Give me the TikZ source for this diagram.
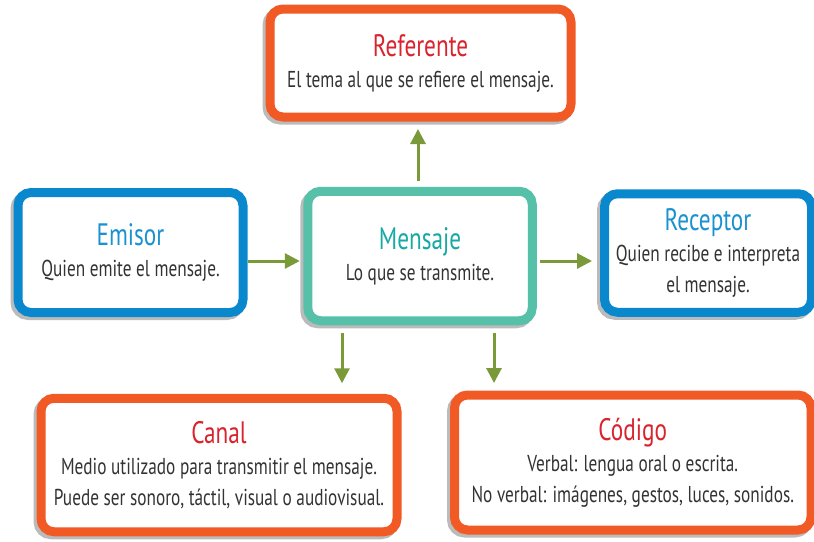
\documentclass[tikz,border=0pt]{standalone}
\usepackage{fontspec}
\setmainfont{PT Sans}[FakeStretch=0.75]
\usepackage{xcolor}
\usetikzlibrary{arrows.meta,positioning,calc}

\definecolor{naranja}{HTML}{F15A24}
\definecolor{azul}{HTML}{0A88CE}
\definecolor{verdeagua}{HTML}{56C1A8}
\definecolor{rojotit}{HTML}{D9232D}
\definecolor{azultit}{HTML}{1A92D0}
\definecolor{verdetit}{HTML}{17A9A5}
\definecolor{verdeflecha}{HTML}{7A9A3A}
\definecolor{textogris}{HTML}{333333}
\definecolor{sombra}{HTML}{BBBBBB}

\newcommand{\titulo}[2]{{\color{#1}\fontsize{31}{32}\selectfont #2}}

\tikzset{
  caja/.style={draw=#1, line width=9pt, rounded corners=13pt, fill=white,
    align=center, text=textogris, inner sep=0pt,
    font=\fontsize{23}{31}\selectfont,
    preaction={draw=sombra, transform canvas={shift={(-3pt,-3pt)}}}},
  flecha/.style={draw=verdeflecha, line width=3pt,
    -{Triangle[length=15pt,width=15pt]}},
}

\begin{document}
\begin{tikzpicture}[x=1pt,y=-1pt]
\useasboundingbox (0,0) rectangle (814,541);

% cajas
\node[caja=naranja, minimum width=301pt, minimum height=108pt] (referente) at (420.5,63)
  {\titulo{rojotit}{Referente}\\El tema al que se refiere el mensaje.};
\node[caja=azul, minimum width=225pt, minimum height=120pt] (emisor) at (130.5,252.5)
  {\titulo{azultit}{Emisor}\\Quien emite el mensaje.};
\node[caja=verdeagua, minimum width=224.5pt, minimum height=129.5pt] (mensaje) at (420,256)
  {\titulo{verdetit}{Mensaje}\\Lo que se transmite.};
\node[caja=azul, minimum width=207pt, minimum height=118.5pt] (receptor) at (708,253)
  {\titulo{azultit}{Receptor}\\Quien recibe e interpreta\\el mensaje.};
\node[caja=naranja, minimum width=356pt, minimum height=133.5pt] (canal) at (219,465)
  {\titulo{rojotit}{Canal}\\Medio utilizado para transmitir el mensaje.\\Puede ser sonoro, táctil, visual o audiovisual.};
\node[caja=naranja, minimum width=356.5pt, minimum height=135pt] (codigo) at (632.75,462.5)
  {\titulo{rojotit}{Código}\\Verbal: lengua oral o escrita.\\No verbal: imágenes, gestos, luces, sonidos.};

% flechas
\draw[flecha, shorten <=0.5pt, shorten >=3.5pt] (emisor.east |- 0,261) -- (mensaje.west |- 0,261);
\draw[flecha, shorten <=3pt, shorten >=8pt] (mensaje.east |- 0,261) -- (receptor.west |- 0,261);
\draw[flecha, shorten <=6pt, shorten >=7.5pt] (mensaje.north -| 418,0) -- (referente.south -| 418,0);
\draw[flecha, shorten <=7.5pt, shorten >=10.5pt] (mensaje.south -| 342,0) -- (canal.north -| 342,0);
\draw[flecha, shorten <=7.5pt, shorten >=7.5pt] (mensaje.south -| 494,0) -- (codigo.north -| 494,0);
\end{tikzpicture}
\end{document}
